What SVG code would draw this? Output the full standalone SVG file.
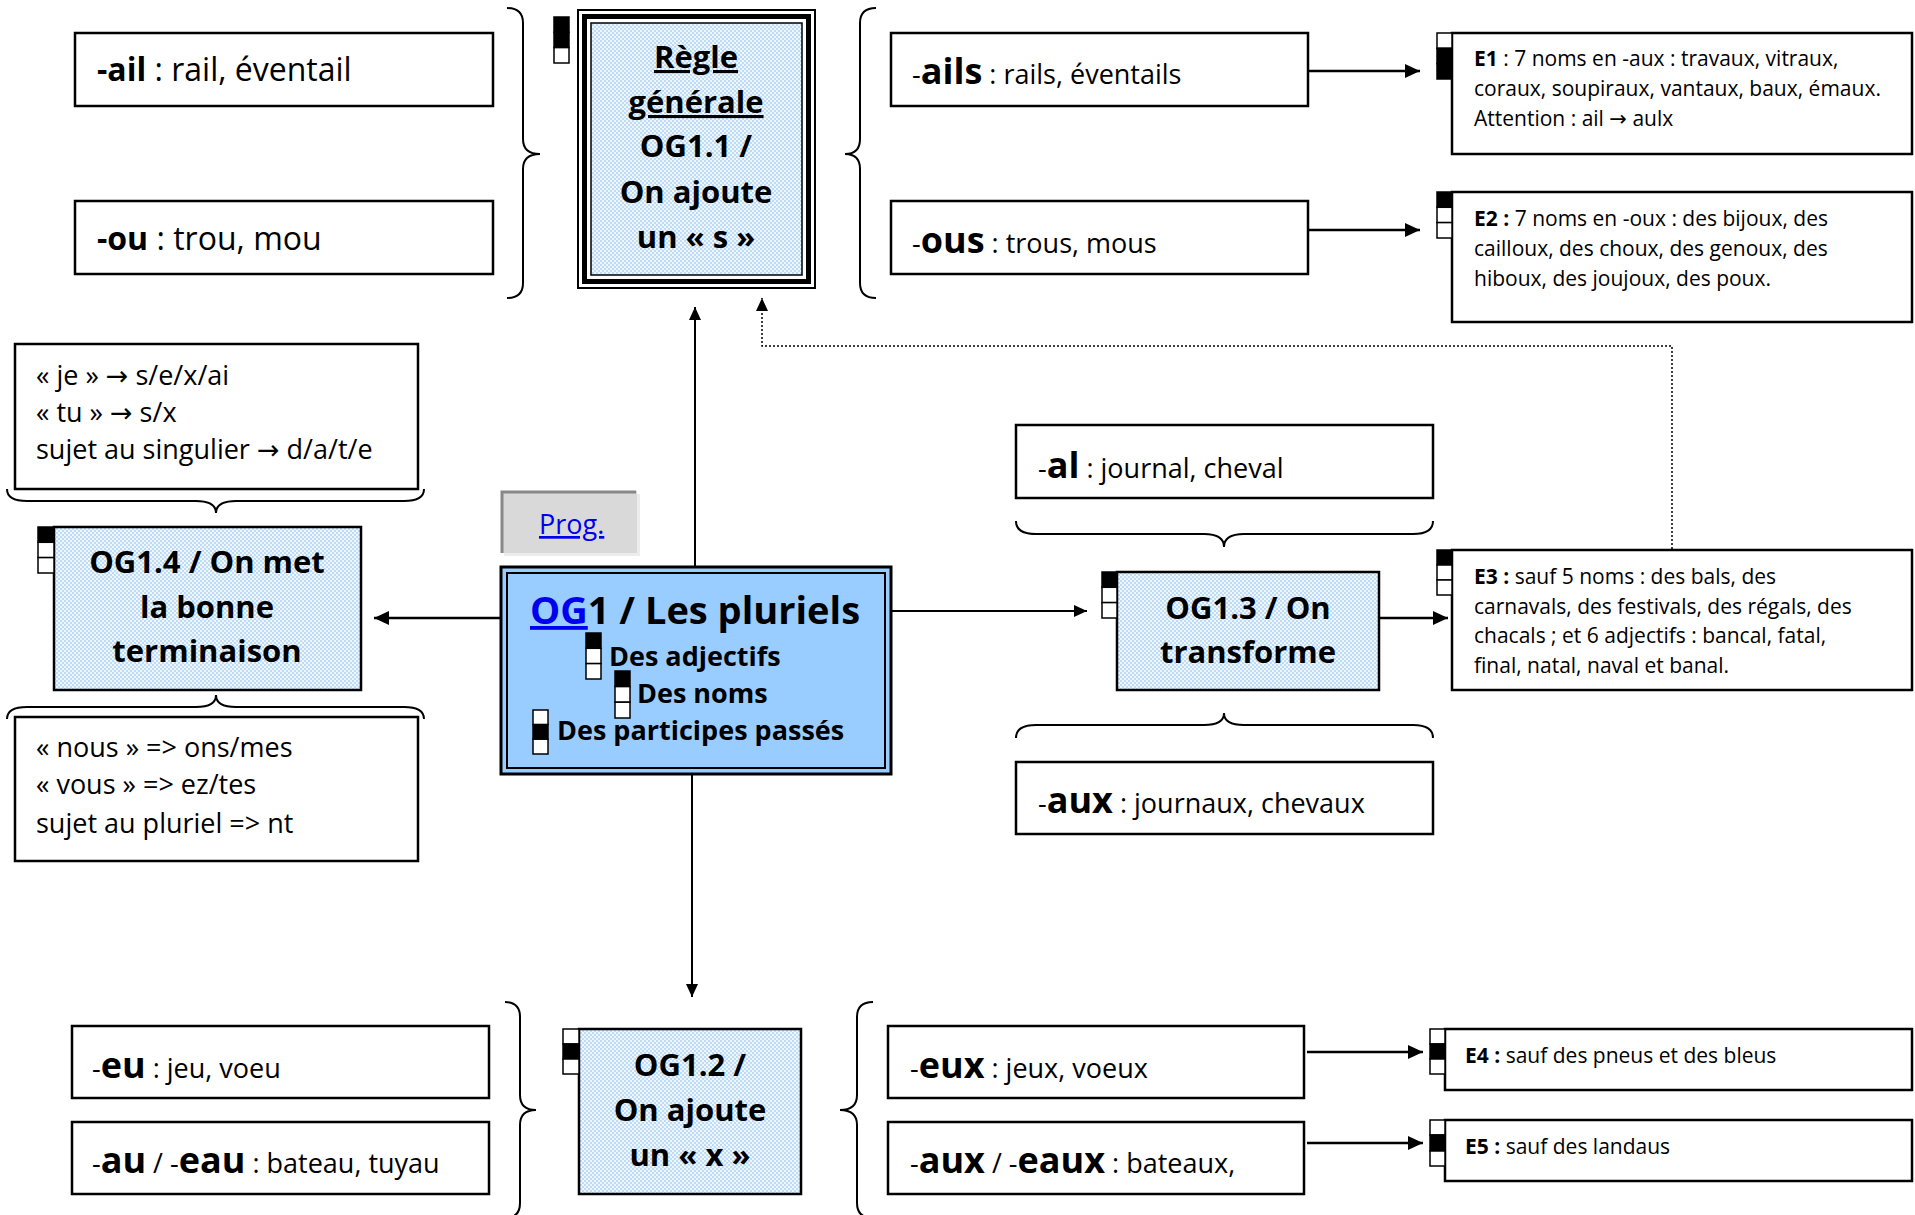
<svg xmlns="http://www.w3.org/2000/svg" width="1915" height="1215" viewBox="0 0 1915 1215">
<defs>
<pattern id="dots" width="4" height="4" patternUnits="userSpaceOnUse">
<rect width="4" height="4" fill="#eef6ff"/>
<circle cx="1" cy="1" r="0.9" fill="#a9cff2"/>
<circle cx="3" cy="3" r="0.9" fill="#a9cff2"/>
</pattern>
<marker id="ah" markerUnits="userSpaceOnUse" markerWidth="16" markerHeight="14" refX="15" refY="7" orient="auto">
<path d="M0,0 L15,7 L0,14 z" fill="#000"/>
</marker>
<marker id="ahs" markerUnits="userSpaceOnUse" markerWidth="14" markerHeight="12" refX="13" refY="6" orient="auto">
<path d="M0,0 L13,6 L0,12 z" fill="#000"/>
</marker>
</defs>
<style>
text{font-family:'Open Sans','DejaVu Sans',sans-serif;fill:#000}
.box{fill:#fff;stroke:#000;stroke-width:2.5}
.og{fill:url(#dots);stroke:#000;stroke-width:2.5}
.br{fill:none;stroke:#000;stroke-width:2}
.ln{fill:none;stroke:#000;stroke-width:2.5}
.cw{fill:#fff;stroke:#000;stroke-width:1.5}
.cb{fill:#000;stroke:#000;stroke-width:1.5}
.b{font-weight:bold}
.m{font-size:32px}
.s{font-size:27px}
.e{font-size:21px}
.big{font-size:36px;font-weight:bold}
.h{font-size:31px;font-weight:bold}
</style>
<rect width="1915" height="1215" fill="#fff"/>

<g id="connectors">
<line class="ln" x1="695" y1="567" x2="695" y2="307" marker-end="url(#ahs)" style="stroke-width:2"/>
<line class="ln" x1="501" y1="618" x2="374" y2="618" marker-end="url(#ah)"/>
<line class="ln" x1="891" y1="611" x2="1087" y2="611" marker-end="url(#ahs)" style="stroke-width:2"/>
<line class="ln" x1="692" y1="774" x2="692" y2="997" marker-end="url(#ahs)" style="stroke-width:2"/>
<line class="ln" x1="1379" y1="618" x2="1448" y2="618" marker-end="url(#ah)"/>
<line class="ln" x1="1308" y1="71" x2="1420" y2="71" marker-end="url(#ah)"/>
<line class="ln" x1="1308" y1="230" x2="1420" y2="230" marker-end="url(#ah)"/>
<line class="ln" x1="1307" y1="1052" x2="1423" y2="1052" marker-end="url(#ah)"/>
<line class="ln" x1="1307" y1="1143" x2="1423" y2="1143" marker-end="url(#ah)"/>
<polyline points="1672,549 1672,346 762,346 762,298" fill="none" stroke="#000" stroke-width="1.5" stroke-dasharray="2,2" marker-end="url(#ahs)"/>
</g>

<g id="braces">
<path class="br" d="M507,8 Q523,8 523,23 L523,139 Q523,154 540,154 Q523,154 523,169 L523,283 Q523,298 507,298"/>
<path class="br" d="M876,8 Q860,8 860,23 L860,139 Q860,154 845,154 Q860,154 860,169 L860,283 Q860,298 876,298"/>
<path class="br" d="M505,1002 Q520,1002 520,1017 L520,1095 Q520,1110 536,1110 Q520,1110 520,1125 L520,1203 Q520,1218 505,1218"/>
<path class="br" d="M873,1002 Q857,1002 857,1017 L857,1095 Q857,1110 840,1110 Q857,1110 857,1125 L857,1203 Q857,1218 873,1218"/>
<path class="br" d="M7,489 Q7,501 27,501 L196,501 Q216,501 216,513 Q216,501 236,501 L404,501 Q424,501 424,489"/>
<path class="br" d="M7,719 Q7,707 27,707 L196,707 Q216,707 216,695 Q216,707 236,707 L404,707 Q424,707 424,719"/>
<path class="br" d="M1016,521 Q1016,534 1036,534 L1204,534 Q1224,534 1224,547 Q1224,534 1244,534 L1413,534 Q1433,534 1433,521"/>
<path class="br" d="M1016,738 Q1016,725 1036,725 L1204,725 Q1224,725 1224,713 Q1224,725 1244,725 L1413,725 Q1433,725 1433,738"/>
</g>

<g id="regle">
<rect x="578" y="10" width="237" height="278" fill="#fff" stroke="#000" stroke-width="2"/>
<rect x="584.5" y="16.5" width="224" height="265" fill="none" stroke="#000" stroke-width="5"/>
<rect x="591" y="23" width="211" height="252" fill="url(#dots)" stroke="#000" stroke-width="1.5"/>
<text class="h" x="696" y="68" text-anchor="middle" text-decoration="underline">Règle</text>
<text class="h" x="696" y="113" text-anchor="middle" text-decoration="underline">générale</text>
<text class="h" x="696" y="157" text-anchor="middle">OG1.1 /</text>
<text class="h" x="696" y="203" text-anchor="middle">On ajoute</text>
<text class="h" x="696" y="248" text-anchor="middle">un « s »</text>
<rect class="cb" x="554" y="17" width="15" height="15.3"/>
<rect class="cb" x="554" y="32.3" width="15" height="15.3"/>
<rect class="cw" x="554" y="47.6" width="15" height="15.4"/>
</g>

<g id="ail">
<rect class="box" x="75" y="33" width="418" height="73"/>
<text class="m" x="97" y="81"><tspan class="b">-ail</tspan> : rail, éventail</text>
</g>
<g id="ou">
<rect class="box" x="75" y="201" width="418" height="73"/>
<text class="m" x="97" y="250"><tspan class="b">-ou</tspan> : trou, mou</text>
</g>

<g id="ails">
<rect class="box" x="891" y="33" width="417" height="73"/>
<text class="s" x="912" y="84">-<tspan class="big">ails</tspan> : rails, éventails</text>
</g>
<g id="ous">
<rect class="box" x="891" y="201" width="417" height="73"/>
<text class="s" x="912" y="253">-<tspan class="big">ous</tspan> : trous, mous</text>
</g>

<g id="e1">
<rect class="box" x="1452" y="33" width="460" height="121"/>
<rect class="cw" x="1437" y="33" width="15" height="15.3"/>
<rect class="cb" x="1437" y="48.3" width="15" height="15.3"/>
<rect class="cb" x="1437" y="63.6" width="15" height="15.4"/>
<text class="e" x="1474" y="66"><tspan class="b">E1</tspan> : 7 noms en -aux : travaux, vitraux,</text>
<text class="e" x="1474" y="96">coraux, soupiraux, vantaux, baux, émaux.</text>
<text class="e" x="1474" y="126">Attention : ail → aulx</text>
</g>
<g id="e2">
<rect class="box" x="1452" y="192" width="460" height="130"/>
<rect class="cb" x="1437" y="192" width="15" height="15.3"/>
<rect class="cw" x="1437" y="207.3" width="15" height="15.3"/>
<rect class="cw" x="1437" y="222.6" width="15" height="15.4"/>
<text class="e" x="1474" y="226"><tspan class="b">E2 :</tspan> 7 noms en -oux : des bijoux, des</text>
<text class="e" x="1474" y="256">cailloux, des choux, des genoux, des</text>
<text class="e" x="1474" y="286">hiboux, des joujoux, des poux.</text>
</g>

<g id="je">
<rect class="box" x="15" y="344" width="403" height="145"/>
<text class="s" x="36" y="385">« je » → s/e/x/ai</text>
<text class="s" x="36" y="422">« tu » → s/x</text>
<text class="s" x="36" y="459">sujet au singulier → d/a/t/e</text>
</g>

<g id="prog">
<rect x="504" y="494" width="136" height="62" fill="#ececec"/>
<rect x="501" y="491" width="136" height="62" fill="#d9d9d9"/>
<path d="M502,553 L502,492 L636,492" fill="none" stroke="#888" stroke-width="3"/>
<text x="539" y="534" font-size="27" fill="#0000ee" style="fill:#0000ee" text-decoration="underline">Prog.</text>
</g>

<g id="og14">
<rect class="og" x="54" y="527" width="307" height="163"/>
<rect class="cb" x="38" y="527" width="16" height="15.3"/>
<rect class="cw" x="38" y="542.3" width="16" height="15.3"/>
<rect class="cw" x="38" y="557.6" width="16" height="15.4"/>
<text class="h" x="207" y="573" text-anchor="middle">OG1.4 / On met</text>
<text class="h" x="207" y="618" text-anchor="middle">la bonne</text>
<text class="h" x="207" y="662" text-anchor="middle">terminaison</text>
</g>

<g id="nous">
<rect class="box" x="15" y="717" width="403" height="144"/>
<text class="s" x="36" y="757">« nous » =&gt; ons/mes</text>
<text class="s" x="36" y="794">« vous » =&gt; ez/tes</text>
<text class="s" x="36" y="833">sujet au pluriel =&gt; nt</text>
</g>

<g id="og1">
<rect x="501" y="567" width="390" height="207" fill="#99ccff" stroke="#000" stroke-width="3"/>
<rect x="507" y="573" width="378" height="195" fill="#99ccff" stroke="#000" stroke-width="2"/>
<text x="530" y="624" font-size="38" class="b"><tspan style="fill:#0000ee" text-decoration="underline">OG</tspan>1 / Les pluriels</text>
<rect class="cb" x="586" y="633" width="15" height="15.3"/>
<rect class="cw" x="586" y="648.3" width="15" height="15.3"/>
<rect class="cw" x="586" y="663.6" width="15" height="15.4"/>
<text x="609" y="666" font-size="27" class="b">Des adjectifs</text>
<rect class="cb" x="615" y="671" width="15" height="15.6"/>
<rect class="cw" x="615" y="686.6" width="15" height="15.6"/>
<rect class="cw" x="615" y="702.2" width="15" height="15.8"/>
<text x="637" y="703" font-size="27" class="b">Des noms</text>
<rect class="cw" x="533" y="710" width="15" height="14.6"/>
<rect class="cb" x="533" y="724.6" width="15" height="14.6"/>
<rect class="cw" x="533" y="739.2" width="15" height="14.8"/>
<text x="557" y="740" font-size="27" class="b">Des participes passés</text>
</g>

<g id="al">
<rect class="box" x="1016" y="425" width="417" height="73"/>
<text class="s" x="1038" y="478">-<tspan class="big">al</tspan> : journal, cheval</text>
</g>

<g id="og13">
<rect class="og" x="1117" y="572" width="262" height="118"/>
<rect class="cb" x="1102" y="572" width="15" height="15.3"/>
<rect class="cw" x="1102" y="587.3" width="15" height="15.3"/>
<rect class="cw" x="1102" y="602.6" width="15" height="15.4"/>
<text class="h" x="1248" y="619" text-anchor="middle">OG1.3 / On</text>
<text class="h" x="1248" y="663" text-anchor="middle">transforme</text>
</g>

<g id="e3">
<rect class="box" x="1452" y="550" width="460" height="140"/>
<rect class="cb" x="1437" y="550" width="15" height="15"/>
<rect class="cw" x="1437" y="565" width="15" height="15"/>
<rect class="cw" x="1437" y="580" width="15" height="15"/>
<text class="e" x="1474" y="584"><tspan class="b">E3 :</tspan> sauf 5 noms : des bals, des</text>
<text class="e" x="1474" y="614">carnavals, des festivals, des régals, des</text>
<text class="e" x="1474" y="643">chacals ; et 6 adjectifs : bancal, fatal,</text>
<text class="e" x="1474" y="673">final, natal, naval et banal.</text>
</g>

<g id="aux">
<rect class="box" x="1016" y="762" width="417" height="72"/>
<text class="s" x="1038" y="813">-<tspan class="big">aux</tspan> : journaux, chevaux</text>
</g>

<g id="eu">
<rect class="box" x="72" y="1026" width="417" height="72"/>
<text class="s" x="92" y="1078">-<tspan class="big">eu</tspan> : jeu, voeu</text>
</g>
<g id="au">
<rect class="box" x="72" y="1122" width="417" height="72"/>
<text class="s" x="92" y="1173">-<tspan class="big">au</tspan> / -<tspan class="big">eau</tspan> : bateau, tuyau</text>
</g>

<g id="og12">
<rect class="og" x="579" y="1029" width="222" height="165"/>
<rect class="cw" x="563" y="1029" width="16" height="15"/>
<rect class="cb" x="563" y="1044" width="16" height="15"/>
<rect class="cw" x="563" y="1059" width="16" height="15"/>
<text class="h" x="690" y="1076" text-anchor="middle">OG1.2 /</text>
<text class="h" x="690" y="1121" text-anchor="middle">On ajoute</text>
<text class="h" x="690" y="1166" text-anchor="middle">un « x »</text>
</g>

<g id="eux">
<rect class="box" x="888" y="1026" width="416" height="72"/>
<text class="s" x="910" y="1078">-<tspan class="big">eux</tspan> : jeux, voeux</text>
</g>
<g id="eaux">
<rect class="box" x="888" y="1122" width="416" height="72"/>
<text class="s" x="910" y="1173">-<tspan class="big">aux</tspan> / -<tspan class="big">eaux</tspan> : bateaux,</text>
</g>

<g id="e4">
<rect class="box" x="1445" y="1029" width="467" height="61"/>
<rect class="cw" x="1430" y="1029" width="15" height="15"/>
<rect class="cb" x="1430" y="1044" width="15" height="15"/>
<rect class="cw" x="1430" y="1059" width="15" height="15"/>
<text class="e" x="1465" y="1063"><tspan class="b">E4 :</tspan> sauf des pneus et des bleus</text>
</g>
<g id="e5">
<rect class="box" x="1445" y="1120" width="467" height="61"/>
<rect class="cw" x="1430" y="1120" width="15" height="15"/>
<rect class="cb" x="1430" y="1135" width="15" height="16"/>
<rect class="cw" x="1430" y="1151" width="15" height="15"/>
<text class="e" x="1465" y="1154"><tspan class="b">E5 :</tspan> sauf des landaus</text>
</g>
</svg>
